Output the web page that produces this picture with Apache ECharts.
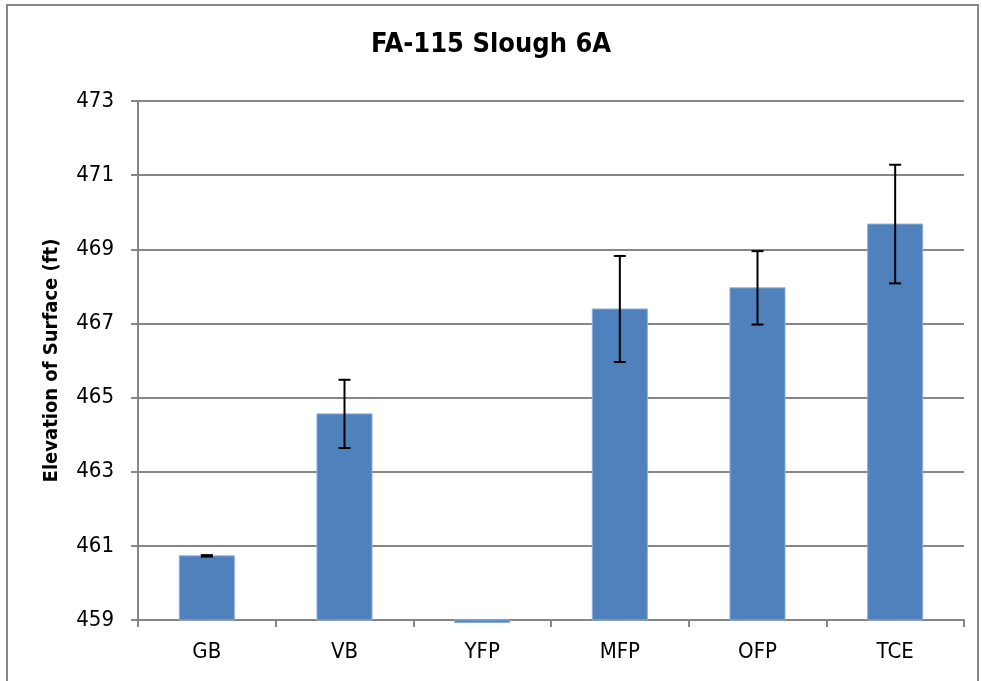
<!DOCTYPE html>
<html>
<head>
<meta charset="utf-8">
<script src="https://cdn.jsdelivr.net/npm/echarts@6/dist/echarts.min.js"></script>
<style>
    html, body { margin: 0; padding: 0; background: #fff; }
    #chart { width: 982px; height: 681px; }
</style>
</head>
<body>
<div id="chart"></div>
<script>
var FONT = '"Liberation Sans Narrow", "Arial Narrow", "DejaVu Sans Condensed", sans-serif';

// 各观测点的平均高程与误差
var categories = ["GB", "VB", "YFP", "MFP", "OFP", "TCE"];
var elevations = [460.73, 464.56, 458.93, 467.39, 467.96, 469.68];
var errors = [0.02, 0.92, 0, 1.43, 0.99, 1.6];
var AXIS_MIN = 459, AXIS_MAX = 473, AXIS_STEP = 2;

var chart = echarts.init(document.getElementById("chart"));

var barData = elevations.map(function(v, i) {
    return [i, v];
});
var errorData = elevations.map(function(v, i) {
    return [i, v - errors[i], v + errors[i]];
});

// 柱子从坐标轴底部画起（YFP 略低于 459，向下画一点）
var renderBar = function(params, api) {
    var base = api.coord([api.value(0), AXIS_MIN]);
    var top = api.coord([api.value(0), api.value(1)]);
    var w = api.size([1, 0])[0] * 0.4;
    return {
        type: "rect",
        shape: { x: base[0] - w / 2, y: Math.min(base[1], top[1]), width: w, height: Math.abs(base[1] - top[1]) },
        style: { fill: "#4F81BD", stroke: "#8EB0DA", lineWidth: 1 }
    };
};

var renderError = function(params, api) {
    var lo = api.coord([api.value(0), api.value(1)]);
    var hi = api.coord([api.value(0), api.value(2)]);
    var cap = 6;
    var style = { stroke: "#000", lineWidth: 2 };
    if (hi[1] == lo[1]) return null;
    return {
        type: "group",
        children: [
            { type: "line", shape: { x1: lo[0], y1: lo[1], x2: hi[0], y2: hi[1] }, style: style },
            { type: "line", shape: { x1: hi[0] - cap, y1: hi[1], x2: hi[0] + cap, y2: hi[1] }, style: style },
            { type: "line", shape: { x1: lo[0] - cap, y1: lo[1], x2: lo[0] + cap, y2: lo[1] }, style: style }
        ]
    };
};

var option = {
    animation: false,
    backgroundColor: "#fff",
    title: {
        text: "FA-115 Slough 6A",
        left: "center",
        top: 26,
        textStyle: { fontFamily: FONT, fontSize: 27, fontWeight: "bold", color: "#000" }
    },
    graphic: [{
        type: "rect",
        shape: { x: 7, y: 5, width: 971, height: 700 },
        style: { fill: "none", stroke: "#868686", lineWidth: 2 },
        silent: true
    }],
    grid: { left: 138, right: 18, top: 101, bottom: 61 },
    xAxis: {
        type: "category",
        data: categories,
        axisLine: { onZero: false, lineStyle: { color: "#868686", width: 2 } },
        axisTick: { show: true, length: 7, lineStyle: { color: "#868686", width: 2 } },
        axisLabel: { fontFamily: FONT, fontSize: 22, color: "#000", margin: 21 }
    },
    yAxis: {
        type: "value",
        min: AXIS_MIN,
        max: AXIS_MAX,
        interval: AXIS_STEP,
        name: "Elevation of Surface (ft)",
        nameLocation: "middle",
        nameGap: 76,
        nameTextStyle: { fontFamily: FONT, fontSize: 20, fontWeight: "bold", color: "#000" },
        axisLine: { show: true, lineStyle: { color: "#868686", width: 2 } },
        axisTick: { show: true, length: 7, lineStyle: { color: "#868686", width: 2 } },
        axisLabel: { fontFamily: FONT, fontSize: 22, color: "#000", margin: 24 },
        splitLine: { lineStyle: { color: "#868686", width: 2 } }
    },
    series: [{
        type: "custom",
        data: barData,
        renderItem: renderBar,
        z: 5
    }, {
        type: "custom",
        data: errorData,
        renderItem: renderError,
        z: 10
    }]
};

chart.setOption(option);
</script>
</body>
</html>
